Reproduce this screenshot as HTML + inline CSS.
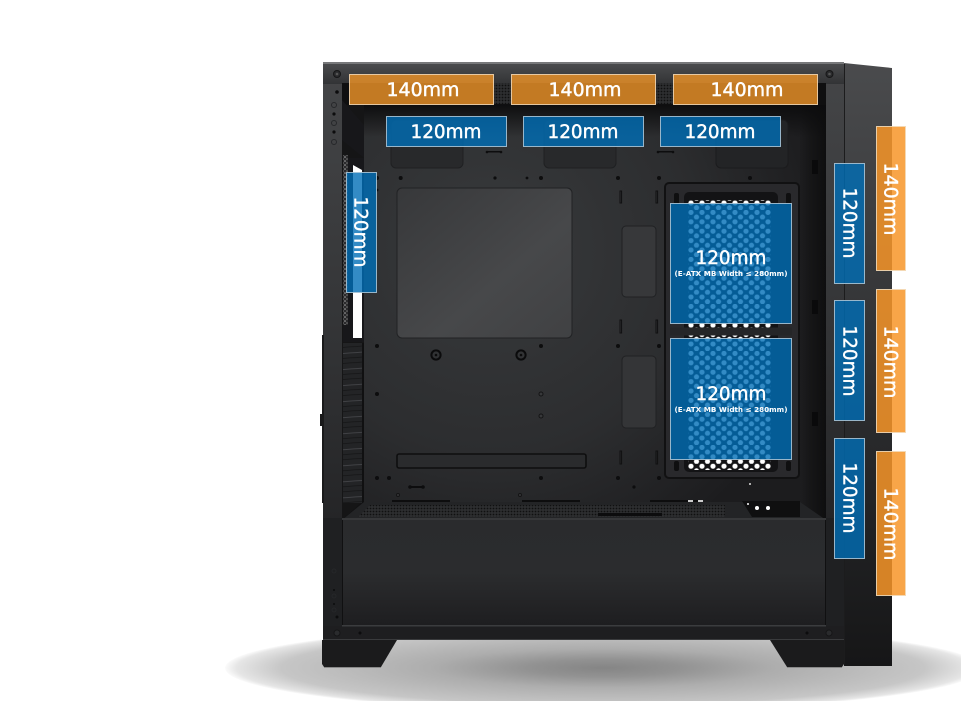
<!DOCTYPE html>
<html><head><meta charset="utf-8">
<style>html,body{margin:0;padding:0;background:#fff;overflow:hidden}svg{display:block}
text{font-family:"DejaVu Sans","Liberation Sans",sans-serif;fill:#fff;text-anchor:middle}
.t text{stroke:#fff;stroke-width:.45}</style></head>
<body>
<svg width="961" height="701" viewBox="0 0 961 701" xmlns="http://www.w3.org/2000/svg">
<defs>
<radialGradient id="sh" cx="603" cy="668" r="1" gradientUnits="userSpaceOnUse" gradientTransform="translate(603 668) scale(378 43) translate(-603 -668)">
<stop offset="0" stop-color="#858585"/><stop offset=".2" stop-color="#929292"/><stop offset=".45" stop-color="#adadad"/><stop offset=".85" stop-color="#c6c6c6"/><stop offset=".97" stop-color="#e6e6e6"/><stop offset="1" stop-color="#fbfbfb"/></radialGradient>
<radialGradient id="back" gradientUnits="userSpaceOnUse" cx="490" cy="250" r="340"><stop offset="0" stop-color="#383a3c"/><stop offset=".6" stop-color="#2c2d2f"/><stop offset="1" stop-color="#1c1c1e"/></radialGradient>
<linearGradient id="big" x1="0" y1="0" x2="1" y2="1"><stop offset="0" stop-color="#37383a"/><stop offset=".6" stop-color="#47484a"/><stop offset="1" stop-color="#404143"/></linearGradient>
<linearGradient id="side" x1="0" y1="0" x2="0" y2="1"><stop offset="0" stop-color="#4a4b4d"/><stop offset=".35" stop-color="#38393b"/><stop offset=".7" stop-color="#242527"/><stop offset="1" stop-color="#161617"/></linearGradient>
<linearGradient id="frame" x1="0" y1="0" x2="0" y2="1"><stop offset="0" stop-color="#454648"/><stop offset=".45" stop-color="#343537"/><stop offset="1" stop-color="#1b1b1d"/></linearGradient>
<linearGradient id="shroud" x1="0" y1="0" x2="0" y2="1"><stop offset="0" stop-color="#2a2b2d"/><stop offset=".5" stop-color="#2b2c2e"/><stop offset="1" stop-color="#1e1e20"/></linearGradient>
<linearGradient id="topb" x1="0" y1="0" x2="0" y2="1"><stop offset="0" stop-color="#4a4b4d"/><stop offset="1" stop-color="#323335"/></linearGradient>
<linearGradient id="topfade" x1="0" y1="0" x2="0" y2="1"><stop offset="0" stop-color="#0c0c0d" stop-opacity=".95"/><stop offset="1" stop-color="#0c0c0d" stop-opacity="0"/></linearGradient>
<linearGradient id="rail" x1="0" y1="0" x2="1" y2="0"><stop offset="0" stop-color="#1d1d1f"/><stop offset=".4" stop-color="#161617"/><stop offset="1" stop-color="#0e0e0f"/></linearGradient>
<pattern id="hc" width="11" height="9.4" patternUnits="userSpaceOnUse" patternTransform="translate(688.2 200.6)">
<circle cx="2.8" cy="2.4" r="2.6" fill="#fff"/><circle cx="8.3" cy="7.1" r="2.6" fill="#fff"/></pattern>
<pattern id="mesh" width="3" height="3" patternUnits="userSpaceOnUse"><rect width="3" height="3" fill="#2d2e30"/><circle cx="1.5" cy="1.5" r=".9" fill="#101011"/></pattern>
<pattern id="wmesh" width="4" height="4" patternUnits="userSpaceOnUse"><rect width="4" height="4" fill="#2a2a2c"/><circle cx="1" cy="1" r=".8" fill="#a9a9a9"/><circle cx="3" cy="3" r=".8" fill="#777"/></pattern>
<pattern id="vent" width="20" height="16" patternUnits="userSpaceOnUse" patternTransform="rotate(-4 343 343)"><rect width="20" height="16" fill="#232426"/><rect y="1" width="20" height=".8" fill="#47484c"/><rect y="6" width="20" height=".7" fill="#141415"/><rect y="11" width="20" height=".7" fill="#141415"/></pattern>
</defs>

<!-- shadow -->
<ellipse cx="603" cy="668" rx="378" ry="43" fill="url(#sh)"/>

<!-- side panel -->
<polygon points="844,63 892,68 892,666 844,666" fill="url(#side)"/>
<!-- front frame -->
<rect x="323" y="62" width="521" height="578" fill="url(#frame)"/>
<rect x="322" y="335" width="2" height="168" fill="#1a1a1b"/>
<rect x="320" y="414" width="3" height="12" fill="#1a1a1b"/>
<rect x="323" y="62" width="521" height="2" fill="#77787a"/>
<rect x="323" y="64" width="521" height="20" fill="url(#topb)"/>
<rect x="844" y="64" width="1" height="600" fill="#1c1c1d"/>

<!-- interior -->
<rect x="342" y="83" width="484" height="437" fill="#121213"/>
<polygon points="342,83 364,105 364,500 342,520" fill="#151516"/>
<rect x="364" y="105" width="436" height="398" fill="url(#back)"/>
<rect x="800" y="105" width="26" height="415" fill="url(#rail)"/>
<rect x="812" y="300" width="6" height="14" fill="#0a0a0b"/><rect x="812" y="412" width="6" height="14" fill="#0a0a0b"/><rect x="812" y="160" width="6" height="14" fill="#0a0a0b"/>
<rect x="342" y="83" width="484" height="22" fill="#0f0f10"/>
<rect x="364" y="105" width="462" height="32" fill="url(#topfade)"/>
<rect x="494" y="83" width="17" height="21" fill="url(#mesh)"/>
<rect x="656" y="83" width="17" height="21" fill="url(#mesh)"/>

<!-- white slit and vent -->
<polygon points="343,158 364,158 364,342 343,342" fill="#17171a"/>
<rect x="343" y="155" width="5" height="170" fill="url(#wmesh)"/>
<polygon points="353,165 362,170 362,338 353,338" fill="#fff"/>
<rect x="343" y="343" width="19" height="160" fill="url(#vent)"/>
<rect x="362" y="343" width="2" height="160" fill="#101011"/>
<polygon points="342,100 364,125 364,158 342,140" fill="#17171a"/>

<!-- cutouts -->
<rect x="391" y="120" width="72" height="48" rx="5" fill="#28292b" stroke="#1f2022"/>
<rect x="544" y="120" width="72" height="48" rx="5" fill="#28292b" stroke="#1f2022"/>
<rect x="716" y="120" width="72" height="48" rx="5" fill="#232426" stroke="#1b1b1d"/>
<rect x="397" y="188" width="175" height="150" rx="5" fill="url(#big)" stroke="#212224"/>
<rect x="622" y="226" width="34" height="71" rx="4" fill="#37383a" stroke="#202123"/>
<rect x="622" y="356" width="34" height="72" rx="4" fill="#343537" stroke="#202123"/>
<rect x="397" y="454" width="189" height="14" rx="2" fill="#2a2b2d" stroke="#0e0e0f" stroke-width="1.6"/>

<!-- bracket -->
<rect x="665" y="183" width="134" height="295" rx="4" fill="#29292c" stroke="#111112" stroke-width="2"/>
<rect x="684" y="192" width="94" height="280" rx="5" fill="#131315"/>
<rect x="670" y="204" width="122" height="119" fill="#151517"/>
<rect x="670" y="339" width="122" height="120" fill="#151517"/>
<rect x="674" y="193" width="5" height="13" rx="2" fill="#0f0f10"/>
<rect x="786" y="193" width="5" height="13" rx="2" fill="#0f0f10"/>
<rect x="674" y="461" width="5" height="10" rx="2" fill="#0f0f10"/>
<rect x="786" y="461" width="5" height="10" rx="2" fill="#0f0f10"/>
<rect x="688" y="200" width="83" height="127.500" fill="url(#hc)"/>
<rect x="688" y="335.500" width="83" height="134.500" fill="url(#hc)"/>
<rect x="670" y="327.500" width="122" height="8" fill="#252628"/>

<!-- dots -->
<g fill="#0d0d0e">
<circle cx="377" cy="178" r="2"/><circle cx="400.7" cy="178" r="2"/><circle cx="495" cy="178" r="1.6"/><circle cx="527" cy="178" r="1.4"/><circle cx="541" cy="178" r="2"/><circle cx="618" cy="178" r="2"/><circle cx="659" cy="178" r="2"/><circle cx="750" cy="178" r="2"/><circle cx="377" cy="190" r="1.4"/>
<circle cx="377" cy="346" r="2"/><circle cx="541" cy="346" r="2"/><circle cx="618" cy="346" r="2"/><circle cx="659" cy="346" r="2"/>
<circle cx="377" cy="394" r="2"/><circle cx="377" cy="478" r="2"/><circle cx="389" cy="478" r="2"/><circle cx="541" cy="478" r="2"/><circle cx="618" cy="478" r="2"/><circle cx="634" cy="487" r="1.6"/><circle cx="659" cy="478" r="2"/>
<rect x="487" y="151" width="14" height="1.5"/><circle cx="487" cy="152" r="1.3"/><circle cx="501" cy="152" r="1.3"/>
<rect x="658" y="151" width="15" height="1.5"/><circle cx="658" cy="152" r="1.3"/><circle cx="673" cy="152" r="1.3"/>
<rect x="409" y="486" width="14" height="2"/><circle cx="410" cy="487" r="1.8"/><circle cx="423" cy="487" r="1.8"/>
<rect x="392" y="500" width="58" height="2.5"/><rect x="522" y="500" width="58" height="2.5"/><rect x="650" y="500" width="50" height="2.5"/>
</g>
<g fill="none" stroke="#101011">
<rect x="620" y="191" width="1.6" height="12"/><rect x="656" y="191" width="1.6" height="12"/>
<rect x="620" y="320" width="1.6" height="13"/><rect x="656" y="320" width="1.6" height="13"/>
<rect x="620" y="451" width="1.6" height="13"/><rect x="656" y="451" width="1.6" height="13"/>
</g>
<g fill="#37383a" stroke="#141415"><circle cx="541" cy="394" r="2"/><circle cx="541" cy="416" r="2"/><circle cx="398" cy="495" r="1.5"/><circle cx="520" cy="495" r="1.5"/></g>
<g fill="none" stroke="#0b0b0c"><circle cx="436" cy="355" r="4.6" stroke-width="2"/><circle cx="521" cy="355" r="4.6" stroke-width="2"/></g>
<circle cx="436" cy="355" r="1.3" fill="#0b0b0c"/><circle cx="521" cy="355" r="1.3" fill="#0b0b0c"/>

<!-- floor -->
<polygon points="342,520 364,502 800,502 826,520" fill="#232426"/>
<polygon points="358,517 370,505 725,505 725,517" fill="url(#mesh)"/>
<rect x="598" y="513" width="64" height="3" fill="#0c0c0d"/>
<polygon points="742,501 800,501 800,517 752,517" fill="#0f0f10"/>
<circle cx="757" cy="508" r="2" fill="#fff"/><circle cx="768" cy="508" r="2" fill="#fff"/><circle cx="748" cy="504" r="1" fill="#fff"/><circle cx="750" cy="484" r="1" fill="#ddd"/>
<rect x="688" y="500" width="5" height="2" fill="#ccc"/><rect x="698" y="500" width="5" height="2" fill="#ccc"/>

<!-- shroud and bottom -->
<rect x="342" y="518" width="484" height="2" fill="#37383a"/>
<rect x="343" y="520" width="482" height="105" fill="url(#shroud)"/>
<rect x="342" y="520" width="1" height="105" fill="#101011"/><rect x="825" y="520" width="1" height="105" fill="#101011"/>
<rect x="323" y="625" width="521" height="15" fill="#1e1e20"/>
<rect x="342" y="625" width="484" height="1.5" fill="#3b3c3e"/>
<rect x="323" y="518" width="19" height="108" fill="#1f2022"/>
<rect x="826" y="518" width="18" height="108" fill="#1f2022"/>

<!-- feet -->
<polygon points="322,640 397,640 381,667 324,667 322,664" fill="#1b1b1c"/>
<polygon points="770,640 844,640 844,664 842,667 787,667" fill="#1b1b1c"/>
<rect x="324" y="667" width="57" height="1" fill="#8a8a8a"/><rect x="787" y="667" width="55" height="1" fill="#8a8a8a"/>
<rect x="323" y="639" width="521" height="1" fill="#3a3b3d"/>

<!-- screws -->
<g fill="#2a2b2d" stroke="#161617"><circle cx="337" cy="74" r="3.5"/><circle cx="829.5" cy="74" r="3.5"/><circle cx="337" cy="633" r="3"/><circle cx="829" cy="633" r="3"/></g>
<g fill="#555" ><circle cx="337" cy="74" r="1.3"/><circle cx="829.5" cy="74" r="1.3"/></g>
<g fill="#0c0c0d"><circle cx="360" cy="633" r="1.5"/><circle cx="807" cy="633" r="1.5"/>
<circle cx="337" cy="92" r="1.8"/><circle cx="334" cy="114" r="1.6"/><circle cx="334" cy="132" r="1.6"/>
<circle cx="337" cy="617" r="1.5"/><circle cx="334" cy="590" r="1"/><circle cx="334" cy="604" r="1"/></g>
<g fill="none" stroke="#26272a"><circle cx="334" cy="105" r="2.5"/><circle cx="334" cy="123" r="2.5"/><circle cx="334" cy="142" r="2.5"/><circle cx="334" cy="571" r="2"/><circle cx="334" cy="596" r="2"/><circle cx="334" cy="610" r="2"/></g>

<!-- orange top -->
<g fill="rgba(236,146,40,.82)" stroke="#eccfa8" stroke-opacity=".95">
<rect x="349.500" y="74.500" width="144" height="30"/>
<rect x="511.500" y="74.500" width="144" height="30"/>
<rect x="673.500" y="74.500" width="144" height="30"/>
</g>
<g font-size="19" class="t">
<text x="423" y="96" textLength="73" lengthAdjust="spacingAndGlyphs">140mm</text>
<text x="585" y="96" textLength="73" lengthAdjust="spacingAndGlyphs">140mm</text>
<text x="747" y="96" textLength="73" lengthAdjust="spacingAndGlyphs">140mm</text>
</g>

<!-- blue -->
<g fill="rgba(0,110,182,.8)" stroke="#a6c3d6" stroke-opacity=".9">
<rect x="386.500" y="116.500" width="120" height="30"/>
<rect x="523.500" y="116.500" width="120" height="30"/>
<rect x="660.500" y="116.500" width="120" height="30"/>
<rect x="346.500" y="172.500" width="30" height="120"/>
<rect x="834.500" y="163.500" width="30" height="120"/>
<rect x="834.500" y="300.500" width="30" height="120"/>
<rect x="834.500" y="438.500" width="30" height="120"/>
<rect x="670.500" y="203.500" width="121" height="120"/>
<rect x="670.500" y="338.500" width="121" height="121"/>
</g>
<g font-size="19" class="t">
<text x="446" y="138" textLength="71" lengthAdjust="spacingAndGlyphs">120mm</text>
<text x="583" y="138" textLength="71" lengthAdjust="spacingAndGlyphs">120mm</text>
<text x="720" y="138" textLength="71" lengthAdjust="spacingAndGlyphs">120mm</text>
<text x="731" y="264" textLength="71" lengthAdjust="spacingAndGlyphs">120mm</text>
<text x="731" y="400" textLength="71" lengthAdjust="spacingAndGlyphs">120mm</text>
<text transform="translate(354.500 232) rotate(90)" textLength="71" lengthAdjust="spacingAndGlyphs">120mm</text>
<text transform="translate(843.500 223) rotate(90)" textLength="71" lengthAdjust="spacingAndGlyphs">120mm</text>
<text transform="translate(843.500 361) rotate(90)" textLength="71" lengthAdjust="spacingAndGlyphs">120mm</text>
<text transform="translate(843.500 498) rotate(90)" textLength="71" lengthAdjust="spacingAndGlyphs">120mm</text>
</g>
<g font-size="7" font-weight="bold">
<text x="731" y="276" textLength="113" lengthAdjust="spacingAndGlyphs">(E-ATX MB Width ≤ 280mm)</text>
<text x="731" y="412" textLength="113" lengthAdjust="spacingAndGlyphs">(E-ATX MB Width ≤ 280mm)</text>
</g>

<!-- orange right -->
<g fill="rgba(247,149,40,.85)" stroke="#f3d9b5" stroke-opacity=".9">
<rect x="876.500" y="126.500" width="29" height="144"/>
<rect x="876.500" y="289.500" width="29" height="143"/>
<rect x="876.500" y="451.500" width="29" height="144"/>
</g>
<g font-size="19" class="t">
<text transform="translate(884.500 199) rotate(90)" textLength="73" lengthAdjust="spacingAndGlyphs">140mm</text>
<text transform="translate(884.500 362) rotate(90)" textLength="73" lengthAdjust="spacingAndGlyphs">140mm</text>
<text transform="translate(884.500 524) rotate(90)" textLength="73" lengthAdjust="spacingAndGlyphs">140mm</text>
</g>
</svg>
</body></html>
